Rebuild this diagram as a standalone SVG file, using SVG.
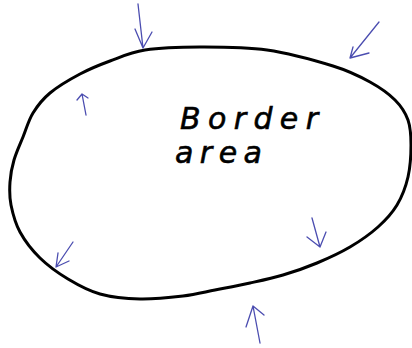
<svg xmlns="http://www.w3.org/2000/svg" width="412" height="348" viewBox="0 0 412 348">
<style>
.blob{fill:none;stroke:#000;stroke-width:3;stroke-linejoin:round}
.arr{fill:none;stroke:#4b4db0;stroke-width:1.3;stroke-linecap:round;stroke-linejoin:round}
.lbl{font-family:"DejaVu Sans","Liberation Sans",sans-serif;font-style:italic;font-size:30px;fill:#000;stroke:#000;stroke-width:0.6}
</style>
<rect width="412" height="348" fill="#fff"/>
<g id="border-area">
<path class="blob" d="M200,47 C220.3,47 244.8,46.8 267,50 C289.2,53.2 315.8,60.7 333,66 C350.2,71.3 359.7,76.3 370,82 C380.3,87.7 388.7,93.7 395,100 C401.3,106.3 405.3,112.5 408,120 C410.7,127.5 411,135.5 411,145 C411,154.5 410.3,167 408,177 C405.7,187 402,196.7 397,205 C392,213.3 385.8,220 378,227 C370.2,234 360.2,241 350,247 C339.8,253 328.2,258.3 317,263 C305.8,267.7 294.2,271.7 283,275 C271.8,278.3 261.3,280.5 250,283 C238.7,285.5 226.2,287.8 215,290 C203.8,292.2 195.5,294.5 183,296 C170.5,297.5 153.8,299.3 140,299 C126.2,298.7 112,297.3 100,294 C88,290.7 78,285 68,279 C58,273 48,265.8 40,258 C32,250.2 24.8,240.8 20,232 C15.2,223.2 12.7,213.3 11,205 C9.3,196.7 9.5,189.5 10,182 C10.5,174.5 11.8,167.5 14,160 C16.2,152.5 19.8,144.8 23,137 C26.2,129.2 28.5,120.3 33,113 C37.5,105.7 42.2,99.5 50,93 C57.8,86.5 70,79.3 80,74 C90,68.7 99.2,65 110,61 C120.8,57 130,52.3 145,50 C160,47.7 179.7,47 200,47 Z"/>
<text class="lbl" x="180" y="129" textLength="138" lengthAdjust="spacing">Border</text>
<text class="lbl" x="175" y="163" textLength="87" lengthAdjust="spacing">area</text>
</g>
<g id="connectors">
<path class="arr" d="M138,4 L143,48 M135,29 L143,48 L152,32"/>
<path class="arr" d="M379,22 L350,58 M353,47 L350,58 L369,53"/>
<path class="arr" d="M86,115 L82,94 M77,100 L82,94 L88,98"/>
<path class="arr" d="M73,242 L56,267 M58,253 L56,267 L69,261"/>
<path class="arr" d="M312,218 L320,247 M307,237 L320,247 L326,232"/>
<path class="arr" d="M260,343 L253,306 M246,327 L253,306 L264,315"/>
</g>
</svg>
